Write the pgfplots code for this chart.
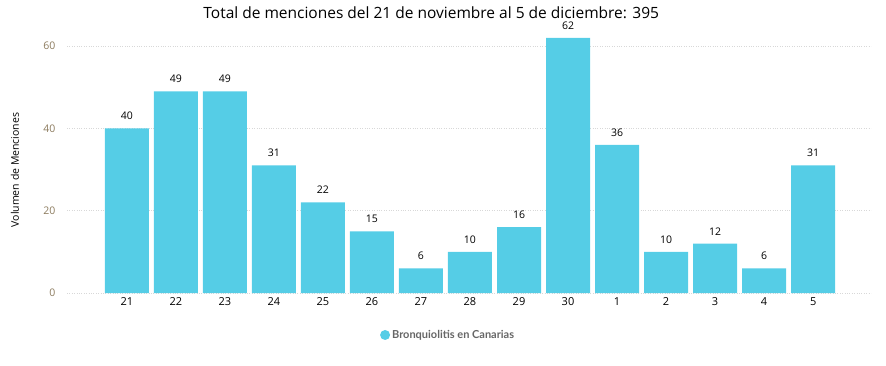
\documentclass[border=0pt]{standalone}
\usepackage{pgfplots}
\pgfplotsset{compat=1.18}
\usepackage{fontspec}
\setmainfont{Open Sans}
\newfontfamily\legfont{Lato}
\definecolor{barc}{HTML}{55CDE6}
\definecolor{ytk}{HTML}{8C7B5E}
\definecolor{gridc}{HTML}{D8D8D8}
\definecolor{legc}{HTML}{666666}
\begin{document}
\begin{tikzpicture}[x=1pt,y=1pt]
\useasboundingbox (0,0) rectangle (886,365);
\begin{axis}[
  at={(67pt,72pt)}, anchor=south west,
  scale only axis, width=804pt, height=247pt,
  xmin=-1.22, xmax=15.18, ymin=0, ymax=60,
  clip=false,
  /pgf/number format/assume math mode=true,
  axis line style={draw=none},
  major tick length=0pt,
  ytick={0,20,40,60},
  ymajorgrids, grid style={gridc, dotted, line width=0.6pt},
  yticklabel style={font=\fontsize{10.5}{12}\selectfont, text=ytk, xshift=-8pt},
  xtick={0,...,14},
  xticklabels={21,22,23,24,25,26,27,28,29,30,1,2,3,4,5},
  xticklabel style={font=\fontsize{11}{13}\selectfont, yshift=-1pt},
  ylabel={Volumen de Menciones},
  ylabel style={at={(axis description cs:-0.0647,0.498)}, anchor=center, rotate=0, font=\fontsize{10.5}{12}\selectfont},
  title={Total de menciones del 21 de noviembre al 5 de diciembre: 395},
  title style={at={(axis description cs:0.453,1.112)}, anchor=center, font=\fontsize{15.5}{18}\selectfont},
  legend style={at={(axis description cs:0.474,-0.17)}, anchor=center, draw=none, font=\legfont\bfseries\fontsize{11}{13}\selectfont, text=legc},
  legend image code/.code={\fill[barc] (0pt,0pt) circle (5pt);},
  nodes near coords,
  every node near coord/.append style={font=\fontsize{10.5}{12}\selectfont, yshift=5pt},
]
\addplot[ybar, bar width=44pt, fill=barc, draw=none] coordinates {
(0,40) (1,49) (2,49) (3,31) (4,22) (5,15) (6,6) (7,10) (8,16) (9,62) (10,36) (11,10) (12,12) (13,6) (14,31)
};
\addlegendentry{Bronquiolitis en Canarias}
\end{axis}
\end{tikzpicture}
\end{document}
